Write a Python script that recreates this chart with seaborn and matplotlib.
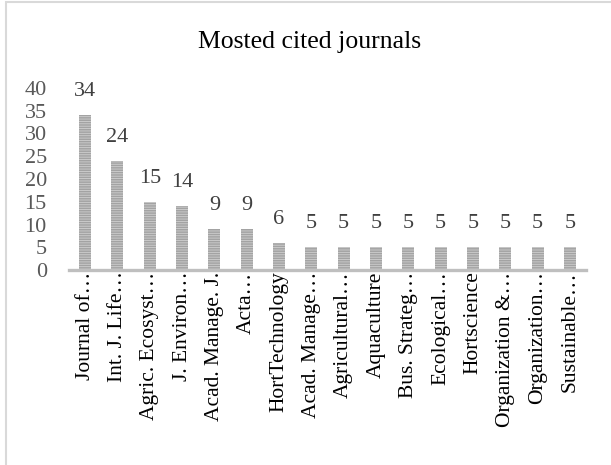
import matplotlib
matplotlib.use('Agg')
from matplotlib import pyplot as plt
from matplotlib.patches import Rectangle
import seaborn as sns

# journals (labels truncated as in the source chart)
journals = ['Journal of…', 'Int. J. Life…', 'Agric. Ecosyst…', 'J. Environ…',
            'Acad. Manage. J.', 'Acta…', 'HortTechnology', 'Acad. Manage…',
            'Agricultural…', 'Aquaculture', 'Bus. Strateg…', 'Ecological…',
            'Hortscience', 'Organization &…', 'Organization…', 'Sustainable…']
citations = [34, 24, 15, 14, 9, 9, 6, 5, 5, 5, 5, 5, 5, 5, 5, 5]
yticks = [0, 5, 10, 15, 20, 25, 30, 35, 40]

sns.set_style('white')
plt.rcParams['font.family'] = ['Liberation Serif', 'DejaVu Serif']
plt.rcParams['hatch.linewidth'] = 1.1

fig = plt.figure(figsize=(6.11, 4.65), dpi=100)
ax = fig.add_axes([69 / 611, 195 / 465, 517 / 611, 182 / 465])

sns.barplot(x=journals, y=citations, ax=ax, color='#cfcfcf', width=0.37,
            hatch='-------', edgecolor='#a3a3a3', linewidth=0)

for c in ax.containers:
    ax.bar_label(c, padding=10, fontsize=16, color='#404040')

ax.set_ylim(0, 40)
ax.set_yticks(yticks)
ax.set_xlim(-0.5, len(journals) - 0.5)
ax.tick_params(axis='y', length=0, pad=16, labelsize=16, labelcolor='#595959')
ax.tick_params(axis='x', length=0, pad=1, labelsize=15.5, labelcolor='#000000')
ax.set_xticks(range(len(journals)))
ax.set_xticklabels(journals, rotation=90, va='top', ha='center')
for s in ['top', 'right', 'left']:
    ax.spines[s].set_visible(False)
ax.spines['bottom'].set_color('#bfbfbf')
ax.spines['bottom'].set_linewidth(2.4)
ax.set_xlabel('')
ax.set_ylabel('')

fig.text(310 / 611, (465 - 48) / 465, 'Mosted cited journals', ha='center',
         va='baseline', fontsize=18.5, color='#000000')

# light outer border (only top/left visible in the source)
fig.patches.append(Rectangle((5.5 / 611, -0.1), 1.0, 1.1 - 2 / 465,
                             transform=fig.transFigure, fill=False,
                             edgecolor='#d9d9d9', linewidth=1.5))

fig.savefig('out.png', dpi=100)
